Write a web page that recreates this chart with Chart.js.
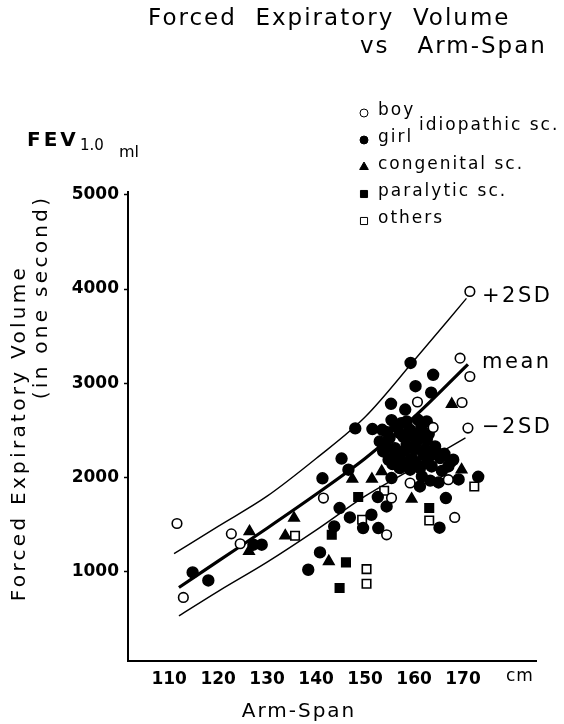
<!DOCTYPE html>
<html>
<head>
<meta charset="utf-8">
<script src="https://cdn.jsdelivr.net/npm/chart.js@4/dist/chart.umd.min.js"></script>
<style>
  html, body { margin: 0; padding: 0; background: #fff; }
  #fevChart { display: block; }
</style>
</head>
<body>
<canvas id="fevChart" width="564" height="724"></canvas>
<script>
// Axis ticks
const xTicks = [110, 120, 130, 140, 150, 160, 170];
const yTicks = [1000, 2000, 3000, 4000, 5000];

// Idiopathic scoliosis - boys (open circles)
const boyX = [111.6, 112.9, 122.7, 124.5, 141.5, 155.4, 154.4, 159.2, 167.0, 168.3, 160.7, 163.9, 169.4, 171.4, 169.8, 171.0, 171.4];
const boyY = [1510, 725, 1400, 1295, 1780, 1780, 1390, 1940, 1975, 1574, 2800, 2530, 3266, 3071, 2795, 2523, 3974];

// Idiopathic scoliosis - girls (filled circles)
const girlX = [114.8, 118.0, 127.2, 128.9, 138.4, 140.8, 143.7, 144.8, 141.3, 145.2, 146.6, 146.9, 151.3, 149.6, 152.7,
  152.6, 154.4, 155.4, 148.0, 151.5, 153.5, 155.3, 158.2, 155.4, 158.5, 160.3, 163.5, 159.3, 163.9,
  153.0, 155.0, 157.1, 159.2, 161.5, 162.6, 160.8, 157.4, 153.7, 156.1, 158.5, 160.5, 162.6, 164.3,
  154.8, 157.1, 159.5, 161.9, 165.3, 167.0, 157.1, 159.2, 161.2, 163.6, 168.0,
  161.6, 161.2, 163.3, 165.0, 165.7, 167.5, 169.1, 173.1, 166.5, 165.2,
  154.5, 156.2, 157.8, 159.8, 161.3, 163.0, 154.2, 156.0, 158.0, 160.2, 162.2, 163.5,
  155.6, 158.3, 160.4, 162.8, 164.6, 166.2];
const girlY = [990, 905, 1285, 1285, 1019, 1203, 1479, 1674, 1990, 2200, 2081, 1574, 1603, 1462, 1462,
  1791, 1691, 1993, 2520, 2513, 2505, 2781, 2720, 2608, 2593, 2968, 2900, 3215, 3089,
  2381, 2417, 2470, 2505, 2541, 2593, 2611, 2576, 2275, 2310, 2346, 2381, 2399, 2329,
  2187, 2205, 2205, 2240, 2205, 2116, 2098, 2081, 2098, 2116, 2187,
  2010, 1903, 1965, 1946, 2068, 2165, 1978, 2006, 1780, 1465,
  2480, 2540, 2430, 2440, 2470, 2460, 2330, 2260, 2280, 2300, 2300, 2240,
  2140, 2150, 2160, 2170, 2270, 2250];

// Congenital scoliosis (filled triangles)
const congX = [126.4, 126.3, 135.5, 133.7, 142.6, 147.4, 151.4, 153.4, 159.5, 169.7, 167.7];
const congY = [1425, 1215, 1568, 1380, 1107, 1982, 1982, 2063, 1770, 2081, 2777];

// Paralytic scoliosis (filled squares)
const paraX = [143.2, 146.1, 144.8, 148.6, 163.1];
const paraY = [1390, 1097, 825, 1791, 1674];

// Others (open squares)
const otherX = [135.7, 150.3, 150.3, 153.9, 149.4, 163.1, 172.3];
const otherY = [1380, 1026, 870, 1858, 1550, 1542, 1903];

// Reference curves
const upperX = [111, 120, 130, 140, 150, 160, 170.7];
const upperY = [1190, 1480, 1800, 2200, 2640, 3240, 3900];
const meanX = [112, 120, 130, 140, 150, 160, 171];
const meanY = [830, 1110, 1460, 1820, 2200, 2640, 3200];
const lowerX = [112, 120, 130, 140, 150, 160, 170.5];
const lowerY = [530, 790, 1100, 1440, 1800, 2100, 2420];

function toPoints(xs, ys) {
    return xs.map((x, i) => ({ x: x, y: ys[i] }));
}

function markerSet(label, xs, ys, style, fill, radius) {
    return {
        label: label,
        data: toPoints(xs, ys),
        pointStyle: style,
        pointRadius: radius,
        pointBackgroundColor: fill,
        pointBorderColor: '#000',
        pointBorderWidth: 1.6,
        showLine: false
    };
}

function curveSet(label, xs, ys, width) {
    return {
        label: label,
        data: toPoints(xs, ys),
        showLine: true,
        borderColor: '#000',
        borderWidth: width,
        pointRadius: 0,
        cubicInterpolationMode: 'monotone',
        fill: false
    };
}

// Text, legend and side labels
const annotations = {
    id: 'annotations',
    afterDraw(chart) {
        const ctx = chart.ctx;
        const font = '"DejaVu Sans", sans-serif';
        ctx.save();
        ctx.fillStyle = '#000';
        ctx.strokeStyle = '#000';
        ctx.textBaseline = 'middle';

        // title
        ctx.font = '500 23px ' + font;
        ctx.letterSpacing = '2px';
        ctx.textAlign = 'left';
        ctx.fillText('Forced  Expiratory  Volume', 148, 19);
        ctx.fillText('vs   Arm-Span', 360, 47);

        // legend
        ctx.font = '17px ' + font;
        ctx.letterSpacing = '2px';
        const legend = [
            ['circle', '#fff', 'boy', 4],
            ['circle', '#000', 'girl', 4],
            ['triangle', '#000', 'congenital sc.', 5],
            ['rect', '#000', 'paralytic sc.', 5],
            ['rect', '#fff', 'others', 5]
        ];
        legend.forEach((item, i) => {
            const y = 113 + i * 27;
            ctx.fillStyle = item[1];
            Chart.helpers.drawPoint(ctx, { pointStyle: item[0], radius: item[3], borderWidth: 1.4 }, 364, y);
            ctx.fillStyle = '#000';
            ctx.fillText(item[2], 378, y - 2);
        });
        ctx.fillText('idiopathic sc.', 419, 126);

        // y axis header
        ctx.font = 'bold 20px ' + font;
        ctx.letterSpacing = '3px';
        ctx.fillText('FEV', 27, 141);
        ctx.font = '15px ' + font;
        ctx.letterSpacing = '0px';
        ctx.fillText('1.0', 80, 146);
        ctx.font = '16px ' + font;
        ctx.fillText('ml', 119, 153);
        ctx.font = '17px ' + font;
        ctx.letterSpacing = '1px';
        ctx.fillText('cm', 506, 677);

        // axis titles
        ctx.font = '20px ' + font;
        ctx.letterSpacing = '2px';
        ctx.textAlign = 'center';
        ctx.fillText('Arm-Span', 299, 712);
        ctx.letterSpacing = '3.3px';
        ctx.save();
        ctx.translate(20, 433);
        ctx.rotate(-Math.PI / 2);
        ctx.fillText('Forced Expiratory Volume', 0, 0);
        ctx.restore();
        ctx.save();
        ctx.translate(42, 297);
        ctx.rotate(-Math.PI / 2);
        ctx.fillText('(in one second)', 0, 0);
        ctx.restore();

        // curve labels
        ctx.textAlign = 'left';
        ctx.font = '21px ' + font;
        ctx.letterSpacing = '2.5px';
        ctx.fillText('+2SD', 482, 297);
        ctx.fillText('mean', 482, 363);
        ctx.fillText('\u22122SD', 482, 428);
        ctx.restore();
    }
};

const chartCtx = document.getElementById('fevChart').getContext('2d');
const tickFont = { family: '"DejaVu Sans", sans-serif', size: 17, weight: 'bold' };

const fevChart = new Chart(chartCtx, {
    type: 'scatter',
    data: {
        datasets: [
            markerSet('boy', boyX, boyY, 'circle', '#fff', 4.8),
            markerSet('girl', girlX, girlY, 'circle', '#000', 5.4),
            markerSet('congenital sc.', congX, congY, 'triangle', '#000', 6),
            markerSet('paralytic sc.', paraX, paraY, 'rect', '#000', 6),
            markerSet('others', otherX, otherY, 'rect', '#fff', 6),
            curveSet('+2SD', upperX, upperY, 1.4),
            curveSet('mean', meanX, meanY, 3.2),
            curveSet('-2SD', lowerX, lowerY, 1.4)
        ]
    },
    options: {
        responsive: false,
        animation: false,
        layout: { padding: { left: 0, right: 28, top: 192, bottom: 0 } },
        plugins: {
            legend: { display: false },
            tooltip: { enabled: false }
        },
        scales: {
            x: {
                type: 'linear',
                min: 101.6,
                max: 184.9,
                border: { display: true, color: '#000', width: 2 },
                grid: { display: false },
                ticks: { color: '#000', font: tickFont, padding: 0, callback: v => String(v) },
                afterBuildTicks: scale => { scale.ticks = xTicks.map(v => ({ value: v })); },
                afterFit: scale => { scale.height = 63; }
            },
            y: {
                type: 'linear',
                min: 50,
                max: 5030,
                border: { display: true, color: '#000', width: 2 },
                grid: { display: true, drawOnChartArea: false, color: '#000', tickLength: 4, tickWidth: 1.5 },
                ticks: { color: '#000', font: tickFont, padding: 5, callback: v => String(v) },
                afterBuildTicks: scale => { scale.ticks = yTicks.map(v => ({ value: v })); },
                afterFit: scale => { scale.width = 128; }
            }
        }
    },
    plugins: [annotations]
});
</script>
</body>
</html>
